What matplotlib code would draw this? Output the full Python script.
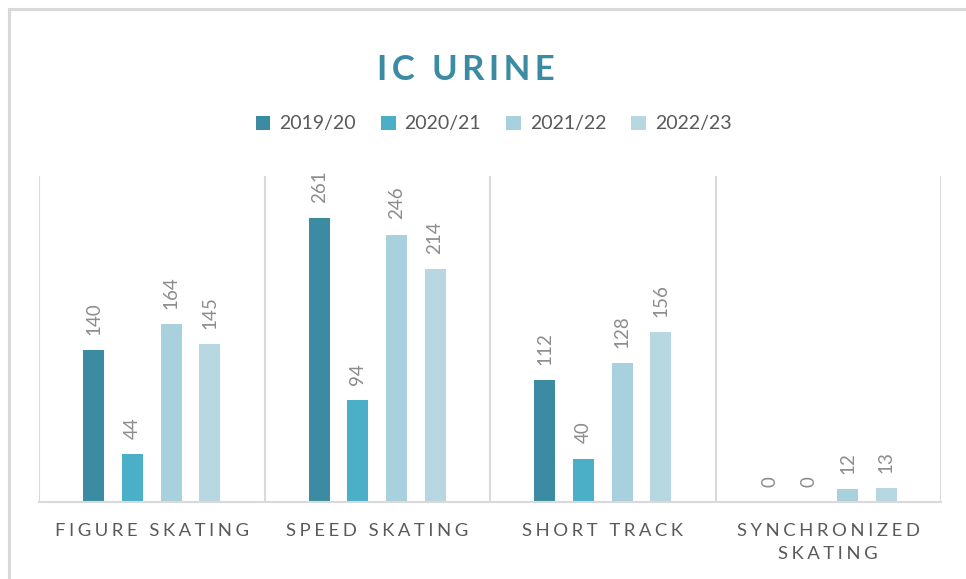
import numpy as np
import matplotlib.pyplot as plt
from matplotlib.patches import Rectangle

plt.rcParams['font.family'] = ['Lato', 'DejaVu Sans']

categories = ['FIGURE SKATING', 'SPEED SKATING', 'SHORT TRACK', 'SYNCHRONIZED\nSKATING']
seasons = ['2019/20', '2020/21', '2021/22', '2022/23']
v2019 = [140, 261, 112, 0]
v2020 = [44, 94, 40, 0]
v2021 = [164, 246, 128, 12]
v2022 = [145, 214, 156, 13]
colors = ['#3b8ca2', '#4bafc7', '#a9d0dd', '#b7d7e1']

def spaced(s, sep='\u2009'):
    return '\n'.join(sep.join(line) for line in s.split('\n'))

fig = plt.figure(figsize=(9.66, 5.79), dpi=100)
ax = fig.add_axes([39/966, 1 - 502/579, (941 - 39)/966, (502 - 176)/579])

# outer frame
fig.patches.append(Rectangle((9/966, -0.1), 1.2, 1 - 9/579 + 0.1, transform=fig.transFigure,
                             fill=False, edgecolor='#d9d9d9', linewidth=2.2))

x = np.arange(len(categories))
w = 0.093
step = 0.171
grid = '#d9d9d9'
for i, (vals, c) in enumerate(zip([v2019, v2020, v2021, v2022], colors)):
    pos = x + (i - 1.5) * step
    ax.bar(pos, vals, width=w, color=c, label=seasons[i])
    for p, v in zip(pos, vals):
        ax.text(p, v + 14, str(v), rotation=90, ha='center', va='bottom',
                fontsize=13.5, color='#8c8c8c')

ax.set_xlim(-0.5, len(categories) - 0.5)
ax.set_ylim(0, 300)
for b in np.arange(-0.5, len(categories), 1):
    ax.axvline(b, color=grid, linewidth=1.5, zorder=0)
for s in ['top', 'right', 'left']:
    ax.spines[s].set_visible(False)
ax.spines['bottom'].set_color(grid)
ax.spines['bottom'].set_linewidth(1.5)
ax.set_yticks([])
ax.set_xticks(x)
ax.set_xticklabels([spaced(c, '\u2009\u200a') for c in categories], fontsize=13.3,
                   color='#595959', linespacing=1.55)
ax.tick_params(axis='x', length=0, pad=15)

fig.text(0.482, 0.879, spaced('IC URINE'), ha='center', va='center', fontsize=25,
         fontweight='bold', color='#3b8ca2')
fig.legend(loc='center', bbox_to_anchor=(0.511, 1 - 124/579), ncol=4, frameon=False,
           fontsize=14, labelcolor='#595959', handlelength=0.75, handleheight=0.75,
           handletextpad=0.45, columnspacing=1.3)

fig.savefig('out.png', dpi=100)
